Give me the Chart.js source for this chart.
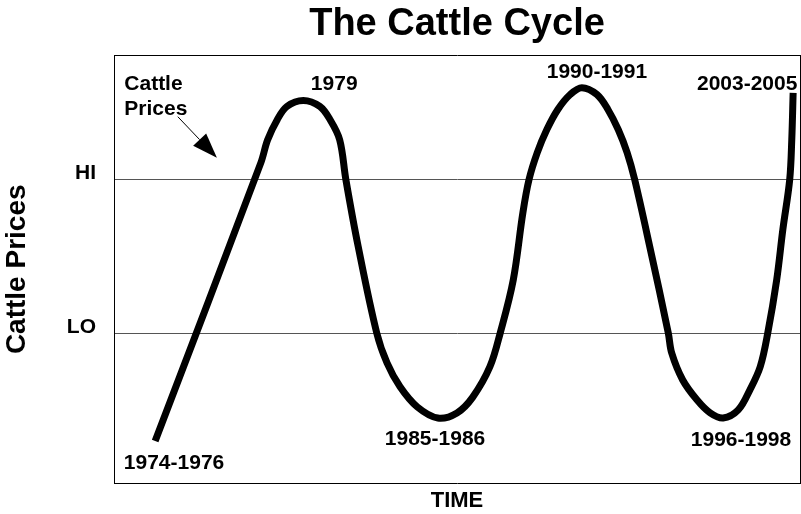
<!DOCTYPE html>
<html>
<head>
<meta charset="utf-8">
<script src="https://cdn.jsdelivr.net/npm/chart.js@4.4.1/dist/chart.umd.min.js"></script>
<style>
  html, body { margin: 0; padding: 0; background: #ffffff; }
  #wrap { width: 801px; height: 514px; }
</style>
</head>
<body>
<div id="wrap"><canvas id="c" width="801" height="514"></canvas></div>
<script>
// ---- data (abstract time units 0-100, price index 0-100) ----
const timeX = [6.0, 21.4, 22.4, 23.8, 25.2, 27.6, 30.0, 31.5, 32.9, 33.8, 35.6, 38.3, 39.8, 41.7, 44.2, 47.2, 50.0, 52.3, 54.8, 56.3, 58.2, 59.6, 60.5, 61.7, 63.1, 64.7, 66.5, 68.2, 70.4, 72.0, 73.5, 74.8, 75.9, 78.1, 80.8, 81.3, 82.9, 85.0, 86.9, 88.8, 91.0, 92.7, 94.2, 95.3, 96.6, 97.5, 98.5, 98.8, 99.0];
const priceY = [9.8, 74.9, 80.3, 85.0, 88.1, 89.5, 88.1, 85.0, 80.3, 71.0, 55.3, 35.1, 28.1, 22.5, 17.8, 15.2, 16.4, 20.1, 27.2, 35.1, 47.5, 63.2, 71.0, 77.3, 82.7, 87.4, 90.9, 92.5, 90.9, 87.4, 82.7, 77.3, 71.0, 55.3, 35.1, 30.4, 24.1, 19.4, 16.4, 15.2, 17.1, 21.8, 27.2, 35.1, 47.5, 59.3, 71.0, 80.3, 91.3];

const levelValues = [35, 71];
const levelLabels = ['LO', 'HI'];

const eventLabels = ['1974-1976', '1979', '1985-1986', '1990-1991', '1996-1998', '2003-2005'];
const eventX = [8.75, 32.1, 46.8, 70.4, 91.4, 92.3];
const eventY = [4.7, 93.2, 10.2, 96.1, 10.0, 93.3];

const noteLines = ['Cattle', 'Prices'];
const noteX = 1.5;
const noteY = [93.2, 87.4];
const arrowFrom = [9.3, 85.7];
const arrowTo = [15.0, 76.1];

// ---- build points ----
const points = timeX.map((x, i) => ({ x: x, y: priceY[i] }));
const FONT = "'Liberation Sans', Arial, Helvetica, sans-serif";

const annotationPlugin = {
  id: 'cycleNotes',
  afterDatasetsDraw(chart) {
    const ctx = chart.ctx;
    const xs = chart.scales.x, ys = chart.scales.y;
    ctx.save();
    ctx.fillStyle = '#000';
    ctx.font = 'bold 21px ' + FONT;
    ctx.textAlign = 'center';
    ctx.textBaseline = 'middle';
    eventLabels.forEach((t, i) => {
      ctx.fillText(t, xs.getPixelForValue(eventX[i]), ys.getPixelForValue(eventY[i]));
    });
    ctx.textAlign = 'left';
    noteLines.forEach((t, i) => {
      ctx.fillText(t, xs.getPixelForValue(noteX), ys.getPixelForValue(noteY[i]));
    });
    // arrow
    const x1 = xs.getPixelForValue(arrowFrom[0]), y1 = ys.getPixelForValue(arrowFrom[1]);
    const x2 = xs.getPixelForValue(arrowTo[0]), y2 = ys.getPixelForValue(arrowTo[1]);
    const ang = Math.atan2(y2 - y1, x2 - x1);
    const headLen = 25, headHalf = 9;
    const bx = x2 - headLen * Math.cos(ang), by = y2 - headLen * Math.sin(ang);
    ctx.strokeStyle = '#000';
    ctx.lineWidth = 1;
    ctx.beginPath();
    ctx.moveTo(x1, y1);
    ctx.lineTo(bx, by);
    ctx.stroke();
    ctx.beginPath();
    ctx.moveTo(x2, y2);
    ctx.lineTo(bx + headHalf * Math.sin(ang), by - headHalf * Math.cos(ang));
    ctx.lineTo(bx - headHalf * Math.sin(ang), by + headHalf * Math.cos(ang));
    ctx.closePath();
    ctx.fill();
    ctx.restore();
  }
};

new Chart(document.getElementById('c'), {
  type: 'scatter',
  data: {
    datasets: [{
      label: 'Cattle Prices',
      data: points,
      showLine: true,
      borderColor: '#000',
      backgroundColor: '#000',
      borderWidth: 7,
      tension: 0.35,
      borderCapStyle: 'butt',
      borderJoinStyle: 'round',
      pointRadius: 0,
      pointHoverRadius: 0
    }]
  },
  options: {
    responsive: false,
    animation: false,
    layout: { padding: { left: 0, right: 1, top: 0, bottom: 0 } },
    plugins: {
      legend: { display: false },
      tooltip: { enabled: false },
      title: {
        display: true,
        text: 'The Cattle Cycle',
        fullSize: false,
        color: '#000',
        font: { family: FONT, size: 38, weight: 'bold' },
        padding: { top: 2, bottom: 8 }
      }
    },
    scales: {
      x: {
        type: 'linear', position: 'bottom', min: 0, max: 100,
        grid: { display: false, drawTicks: false },
        border: { display: true, color: '#000', width: 1 },
        ticks: { display: false },
        title: {
          display: true, text: 'TIME', color: '#000',
          font: { family: FONT, size: 22, weight: 'bold' },
          padding: { top: 0, bottom: 0 }
        },
        afterFit(s) { s.height = 31; }
      },
      x2: {
        type: 'linear', position: 'top', min: 0, max: 100,
        grid: { display: false, drawTicks: false },
        border: { display: true, color: '#000', width: 1 },
        ticks: { display: false },
        afterFit(s) { s.height = 0; }
      },
      y: {
        type: 'linear', position: 'left', min: 0, max: 100,
        afterBuildTicks(s) { s.ticks = levelValues.map(v => ({ value: v })); },
        grid: { display: true, drawTicks: false, color: '#555', lineWidth: 1 },
        border: { display: true, color: '#000', width: 1 },
        ticks: {
          color: '#000',
          font: { family: FONT, size: 21, weight: 'bold' },
          padding: 18,
          labelOffset: -6,
          callback(v) { const i = levelValues.indexOf(v); return i >= 0 ? levelLabels[i] : ''; }
        },
        title: {
          display: true, text: 'Cattle Prices', color: '#000',
          font: { family: FONT, size: 28, weight: 'bold' },
          padding: { top: 0, bottom: 0 }
        },
        afterFit(s) { s.width = 114; }
      },
      y2: {
        type: 'linear', position: 'right', min: 0, max: 100,
        grid: { display: false, drawTicks: false },
        border: { display: true, color: '#000', width: 1 },
        ticks: { display: false },
        afterFit(s) { s.width = 0; }
      }
    }
  },
  plugins: [annotationPlugin]
});
</script>
</body>
</html>
